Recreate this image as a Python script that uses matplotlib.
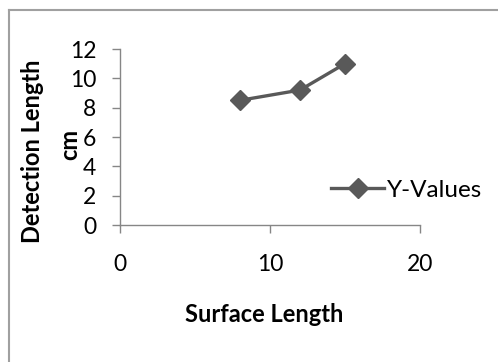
import matplotlib
matplotlib.use("Agg")
import matplotlib.pyplot as plt
from matplotlib.lines import Line2D

# data
surface_length = [8, 12, 15]
detection_length = [8.5, 9.2, 11.0]
series_name = "Y-Values"
x_ticks = [0, 10, 20]
y_ticks = [0, 2, 4, 6, 8, 10, 12]

plt.rcParams['font.family'] = ['Lato', 'DejaVu Sans']

fig = plt.figure(figsize=(4.98, 3.62), dpi=100)
ax = fig.add_axes([120/498, 1-225/362, 300/498, 176/362])

line_col = '#595959'
axis_col = '#868686'

ax.plot(surface_length, detection_length, color=line_col, lw=2.4,
        marker='D', markersize=10, label=series_name)

ax.set_xlim(0, 20)
ax.set_ylim(0, 12)
ax.set_xticks(x_ticks)
ax.set_yticks(y_ticks)

for s in ['top', 'right']:
    ax.spines[s].set_visible(False)
for s in ['left', 'bottom']:
    ax.spines[s].set_color(axis_col)
    ax.spines[s].set_linewidth(1.0)

ax.tick_params(axis='y', direction='out', length=6, width=1, color=axis_col,
               labelsize=16.5, pad=11)
ax.tick_params(axis='x', direction='out', length=6, width=1, color=axis_col,
               labelsize=16.5, pad=15)

fig.text(264/498, 1-314/362, "Surface Length", ha='center', va='center',
         fontsize=17, fontweight='bold')
# y title is two lines in the reference, spaced wide apart
fig.text(33/498, 1-151/362, "Detection Length", ha='center', va='center',
         rotation=90, fontsize=17, fontweight='bold')
fig.text(70/498, 1-144/362, "cm", ha='center', va='center',
         rotation=90, fontsize=17, fontweight='bold')

ax.legend(loc='center left', bbox_to_anchor=(331/498, 1-190/362),
          bbox_transform=fig.transFigure, frameon=False, fontsize=17.5,
          handlelength=2.2, handletextpad=0.1, borderpad=0, borderaxespad=0)

# outer chart border
fig.add_artist(Line2D([9/498, 9/498], [0, 1-10/362], color='#a0a0a0', lw=1.5,
                      transform=fig.transFigure))
fig.add_artist(Line2D([9/498, 1], [1-10/362, 1-10/362], color='#a0a0a0', lw=1.5,
                      transform=fig.transFigure))

fig.savefig("out.png", dpi=100)
